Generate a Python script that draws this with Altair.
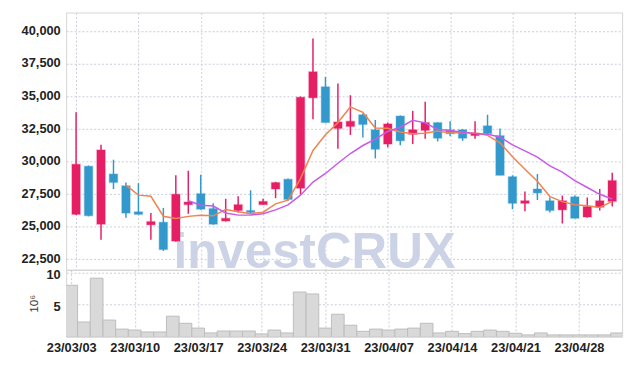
import altair as alt
import pandas as pd

dates = ["23/03/03", "23/03/06", "23/03/07", "23/03/08", "23/03/09", "23/03/10",
         "23/03/13", "23/03/14", "23/03/15", "23/03/16", "23/03/17",
         "23/03/20", "23/03/21", "23/03/22", "23/03/23", "23/03/24",
         "23/03/27", "23/03/28", "23/03/29", "23/03/30", "23/03/31",
         "23/04/03", "23/04/04", "23/04/05", "23/04/06", "23/04/07",
         "23/04/10", "23/04/11", "23/04/12", "23/04/13", "23/04/14",
         "23/04/17", "23/04/18", "23/04/19", "23/04/20", "23/04/21",
         "23/04/24", "23/04/25", "23/04/26", "23/04/27", "23/04/28",
         "23/05/02", "23/05/03", "23/05/04"]
opens = [25950, 29650, 25200, 29050, 28150, 26150, 25150, 25350, 23900, 26700, 27550,
         26400, 25450, 26250, 26250, 26700, 27900, 28650, 27950, 34900, 35750,
         32550, 32700, 33600, 32450, 31350, 33500, 32100, 32400, 33000, 32450,
         32450, 32000, 32750, 32000, 28850, 26800, 27900, 27000, 26300, 27300,
         25750, 26500, 26950]
highs = [33800, 29700, 31300, 30150, 28400, 28350, 26050, 26450, 28950, 29300, 29000,
         26800, 27150, 27350, 27800, 27150, 28450, 28700, 35000, 39450, 36500,
         36000, 35100, 33700, 33200, 33000, 33550, 33900, 34600, 33000, 33100,
         32500, 33100, 33600, 32550, 28950, 27700, 29050, 27250, 27400, 27400,
         27250, 27900, 29150]
lows = [25900, 25800, 24000, 27900, 25700, 25950, 24000, 23150, 23850, 26000, 26300,
        25150, 25400, 26100, 26000, 26700, 27200, 27000, 27500, 33250, 33000,
        31000, 32050, 31850, 30250, 31100, 31250, 31350, 31750, 31550, 31950,
        31600, 31750, 32100, 28950, 26350, 26200, 27050, 26100, 25250, 25650,
        25700, 26250, 26550]
closes = [29800, 25850, 30900, 28400, 26050, 25950, 25400, 23250, 27500, 26900, 26350,
          25200, 25650, 26700, 26100, 26950, 28400, 27100, 34950, 36900, 33000,
          33050, 33100, 32850, 30950, 32900, 31600, 32450, 33000, 31800, 32150,
          31800, 32200, 32150, 28950, 26800, 27000, 27600, 26250, 27000, 25650,
          26550, 27000, 28550]
volumes = [8.0, 2.3, 9.1, 2.6, 1.2, 1.05, 0.75, 0.75, 3.2, 2.1, 1.35,
           0.6, 0.9, 0.9, 0.9, 0.45, 1.05, 0.6, 6.95, 6.65, 1.35,
           3.5, 1.8, 0.85, 1.2, 1.05, 1.2, 1.35, 2.1, 0.6, 0.85,
           0.5, 0.85, 1.05, 0.85, 0.55, 0.3, 0.6, 0.3, 0.3, 0.3,
           0.3, 0.3, 0.6]
price_ticks = [22500, 25000, 27500, 30000, 32500, 35000, 37500, 40000]
vol_ticks = [5, 10]
label_idx = [0, 5, 10, 15, 20, 25, 30, 35, 40]

UP = "#e61e64"
DOWN = "#3399cc"
MA5_C = "#ef8450"
MA10_C = "#c75ae8"
FONT = "Liberation Sans, Arial, sans-serif"

df = pd.DataFrame({"i": list(range(len(dates))), "date": dates, "open": opens,
                   "high": highs, "low": lows, "close": closes, "vol": volumes})
df["dir"] = ["up" if c >= o else "down" for o, c in zip(opens, closes)]

W = 564
label_list = "[" + ",".join("'" + dates[k] + "'" for k in label_idx) + "]"

xscale = alt.Scale(domain=[-0.4, len(dates) - 0.6], nice=False, zero=False)
x_price = alt.X("i:Q", scale=xscale,
                axis=alt.Axis(values=label_idx, labels=False, ticks=False, domain=False,
                              grid=True, title=None, labelPadding=0))
yscale = alt.Scale(domain=[21700, 41450], nice=False, zero=False)


def ycol(field):
    return alt.Y(field, scale=yscale,
                 axis=alt.Axis(values=price_ticks, format=",.0f", title=None, ticks=False,
                               domain=False, labelPadding=6, labelOffset=-1))


color = alt.Color("dir:N", scale=alt.Scale(domain=["up", "down"], range=[UP, DOWN]),
                  legend=None)

base = alt.Chart(df)

watermark = alt.Chart(pd.DataFrame({"t": ["investCRUX"]})).mark_text(
    font=FONT, fontSize=50, fontWeight="bold", color="#cdd3e6", align="center",
    baseline="alphabetic").encode(text="t:N", x=alt.value(252), y=alt.value(259))

wicks = base.mark_rule(strokeWidth=1.5).encode(x=x_price, y=ycol("low:Q"), y2="high:Q",
                                                color=color)
bodies = base.mark_bar(width=8.5, strokeWidth=1.5, strokeOpacity=0.25).encode(
    x=x_price, y=ycol("open:Q"), y2="close:Q", color=color, stroke=color)

ma5 = base.transform_window(ma="mean(close)", n="count()", frame=[-4, 0],
                            sort=[alt.SortField("i")]).transform_filter(
    "datum.n == 5").mark_line(color=MA5_C, strokeWidth=1.5).encode(x=x_price, y=ycol("ma:Q"))
ma10 = base.transform_window(ma="mean(close)", n="count()", frame=[-9, 0],
                             sort=[alt.SortField("i")]).transform_filter(
    "datum.n == 10").mark_line(color=MA10_C, strokeWidth=1.5).encode(x=x_price, y=ycol("ma:Q"))

price = alt.layer(watermark, wicks, bodies, ma5, ma10).properties(width=W, height=261)

vol = base.transform_calculate(x0="datum.i - 0.5", x1="datum.i + 0.5").mark_rect(
    color="#d9d9d9", stroke="#bdbdbd", strokeWidth=1, clip=True).encode(
    x=alt.X("x0:Q", scale=xscale,
            axis=alt.Axis(values=label_idx, labelExpr=label_list + "[datum.value / 5]",
                          ticks=False, domain=False, grid=True, title=None, labelPadding=5)),
    x2="x1:Q",
    y=alt.Y("vol:Q", scale=alt.Scale(domain=[0, 10.4], nice=False),
            axis=alt.Axis(values=vol_ticks, title="10⁶", ticks=False, domain=False,
                          labelPadding=6, labelOffset=2, titlePadding=6,
                          titleFontWeight="normal", titleFontSize=12, titleColor="#333")),
    y2=alt.datum(0),
).properties(width=W, height=68)

chart = alt.vconcat(price, vol, spacing=0, bounds="flush").properties(
    padding={"left": 12, "top": 1, "right": 8, "bottom": 5}
).configure_view(stroke="#d4d4d4").configure_axis(
    gridColor="#c9cddb", gridDash=[2, 2], gridWidth=1,
    labelFont=FONT, labelFontSize=13, labelFontWeight="bold", labelColor="#222222",
    titleFont=FONT
)

chart.save("out.html", embed_options={"renderer": "svg", "actions": False})
